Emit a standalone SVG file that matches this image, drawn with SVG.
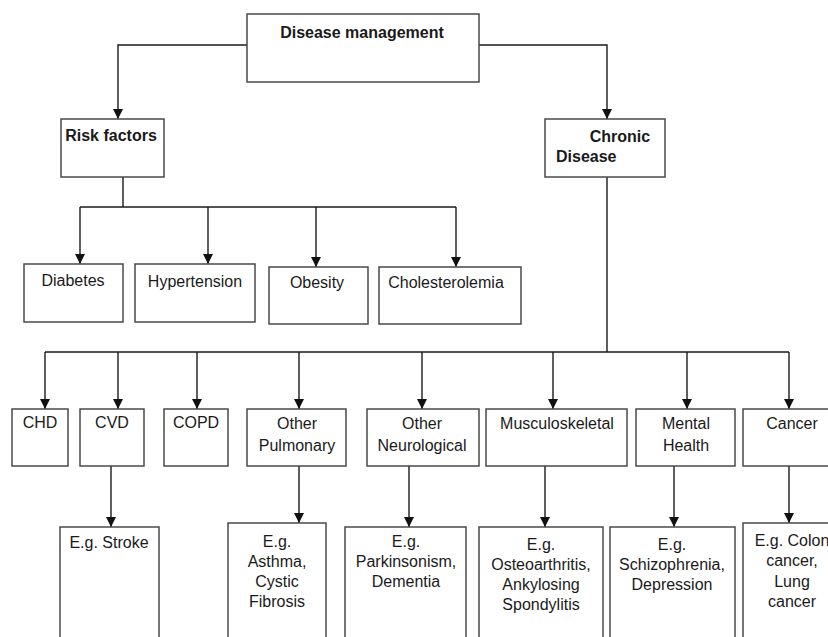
<svg xmlns="http://www.w3.org/2000/svg" width="828" height="637" viewBox="0 0 828 637">
<style>
rect{fill:#fff;stroke:#4a4a4a;stroke-width:1.5}
text{font-family:"Liberation Sans",Arial,sans-serif;font-size:16px;fill:#1a1a1a;text-anchor:middle}
.b{font-weight:bold}
.c path{fill:none;stroke:#1a1a1a;stroke-width:1.4}
.c path.a{marker-end:url(#ah)}
</style>
<defs>
<marker id="ah" markerUnits="userSpaceOnUse" markerWidth="10" markerHeight="10" viewBox="0 0 10 10" refX="10" refY="5" orient="auto">
<path d="M0,0 L10,5 L0,10 Z" fill="#111"/>
</marker>
</defs>
<rect width="828" height="637" style="fill:#fff;stroke:none"/>
<g class="c">
<path class="a" d="M247,45 H118 V119"/>
<path class="a" d="M479,45 H607 V119"/>
<path d="M123,177 V207 M80,207 H456"/>
<path class="a" d="M80,207 V264"/>
<path class="a" d="M208,207 V264"/>
<path class="a" d="M316,207 V267"/>
<path class="a" d="M456,207 V267"/>
<path d="M607,177 V352 M45,352 H789"/>
<path class="a" d="M45,352 V409"/>
<path class="a" d="M118,352 V409"/>
<path class="a" d="M197,352 V409"/>
<path class="a" d="M299,352 V409"/>
<path class="a" d="M422,352 V409"/>
<path class="a" d="M553,352 V409"/>
<path class="a" d="M687,352 V409"/>
<path class="a" d="M789,352 V409"/>
<path class="a" d="M111,466 V527"/>
<path class="a" d="M299,466 V523"/>
<path class="a" d="M409,466 V527"/>
<path class="a" d="M545,466 V527"/>
<path class="a" d="M674,466 V527"/>
<path class="a" d="M789,466 V523"/>
</g>
<g id="disease-management"><rect x="247" y="14" width="232" height="68"/><text class="b" x="362" y="38">Disease management</text></g>
<g id="risk-factors"><rect x="61" y="119" width="103" height="58"/><text class="b" x="111" y="141">Risk factors</text></g>
<g id="chronic-disease"><rect x="545" y="119" width="120" height="58"/><text class="b" x="620" y="142">Chronic</text><text class="b" x="556" y="162" style="text-anchor:start">Disease</text></g>
<g id="diabetes"><rect x="24" y="264" width="99" height="58"/><text x="73" y="286">Diabetes</text></g>
<g id="hypertension"><rect x="135" y="264" width="120" height="58"/><text x="195" y="287">Hypertension</text></g>
<g id="obesity"><rect x="269" y="267" width="99" height="57"/><text x="317" y="288">Obesity</text></g>
<g id="cholesterolemia"><rect x="379" y="267" width="142" height="57"/><text x="446" y="288">Cholesterolemia</text></g>
<g id="chd"><rect x="12" y="409" width="56" height="57"/><text x="40" y="428">CHD</text></g>
<g id="cvd"><rect x="80" y="409" width="64" height="57"/><text x="112" y="428">CVD</text></g>
<g id="copd"><rect x="164" y="409" width="64" height="57"/><text x="196" y="428">COPD</text></g>
<g id="other-pulmonary"><rect x="247" y="409" width="99" height="57"/><text x="297" y="429">Other</text><text x="297" y="451">Pulmonary</text></g>
<g id="other-neurological"><rect x="367" y="409" width="112" height="57"/><text x="422" y="429">Other</text><text x="422" y="451">Neurological</text></g>
<g id="musculoskeletal"><rect x="486" y="409" width="141" height="57"/><text x="557" y="429">Musculoskeletal</text></g>
<g id="mental-health"><rect x="636" y="409" width="99" height="57"/><text x="686" y="429">Mental</text><text x="686" y="451">Health</text></g>
<g id="cancer"><rect x="743" y="409" width="90" height="57"/><text x="792" y="429">Cancer</text></g>
<g id="eg-stroke"><rect x="60" y="527" width="99" height="115"/><text x="109" y="548">E.g. Stroke</text></g>
<g id="eg-pulmonary"><rect x="228" y="523" width="98" height="119"/><text x="277" y="547">E.g.</text><text x="277" y="567">Asthma,</text><text x="277" y="587">Cystic</text><text x="277" y="607">Fibrosis</text></g>
<g id="eg-neurological"><rect x="345" y="527" width="121" height="115"/><text x="406" y="547">E.g.</text><text x="406" y="567">Parkinsonism,</text><text x="406" y="587">Dementia</text></g>
<g id="eg-musculoskeletal"><rect x="479" y="527" width="124" height="115"/><text x="541" y="550">E.g.</text><text x="541" y="570">Osteoarthritis,</text><text x="541" y="590">Ankylosing</text><text x="541" y="610">Spondylitis</text></g>
<g id="eg-mental"><rect x="610" y="527" width="125" height="115"/><text x="672" y="550">E.g.</text><text x="672" y="570">Schizophrenia,</text><text x="672" y="590">Depression</text></g>
<g id="eg-cancer"><rect x="743" y="523" width="90" height="119"/><text x="792" y="546">E.g. Colon</text><text x="792" y="566">cancer,</text><text x="792" y="587">Lung</text><text x="792" y="607">cancer</text></g>
</svg>
